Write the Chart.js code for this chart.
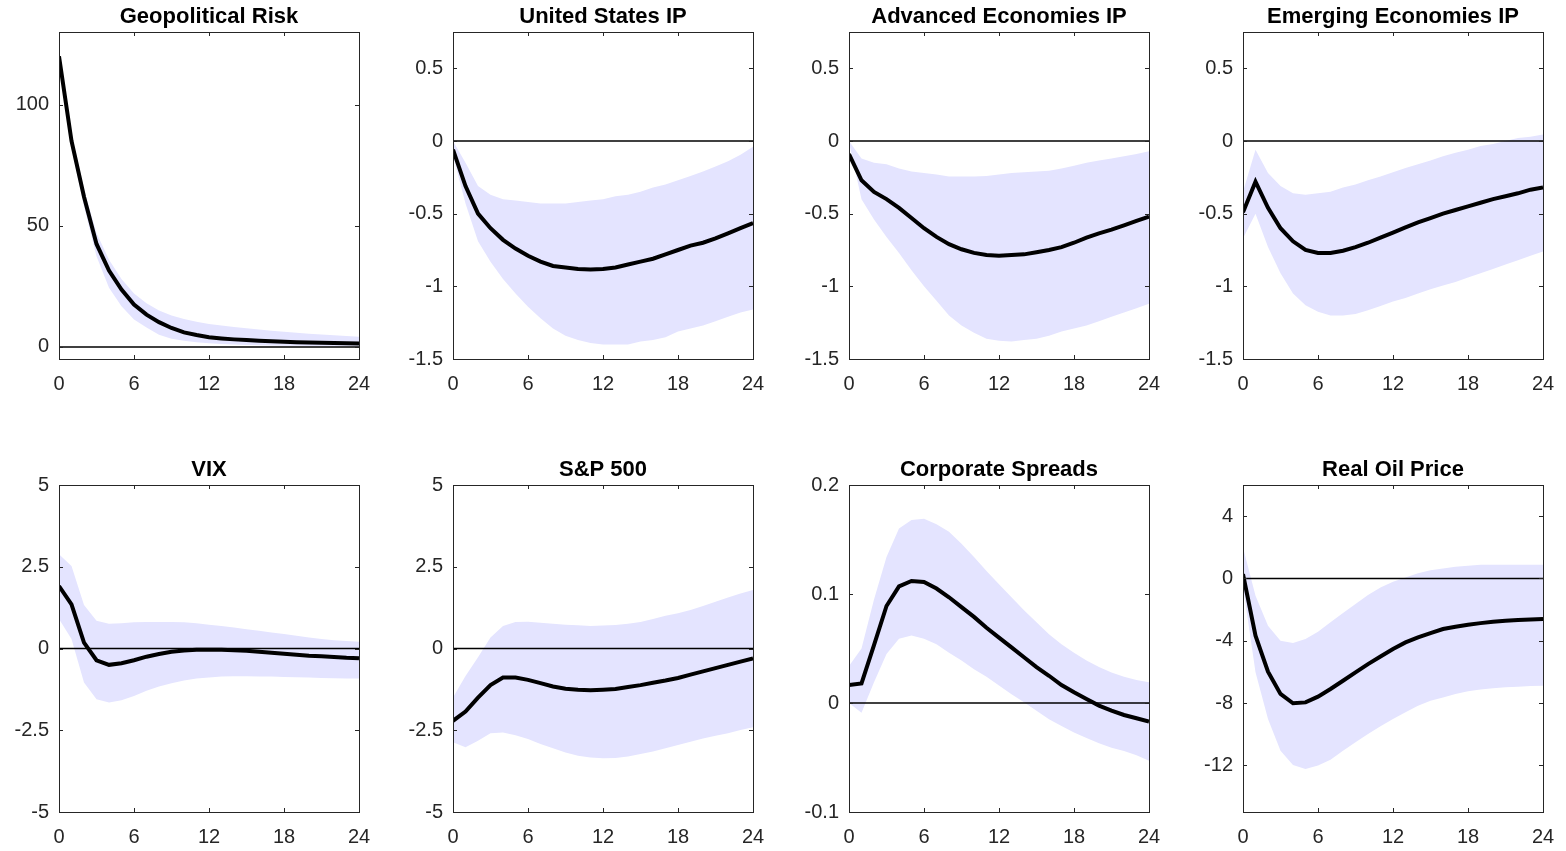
<!DOCTYPE html>
<html>
<head>
<meta charset="utf-8">
<title>Impulse responses</title>
<script src="https://cdn.jsdelivr.net/npm/chart.js@4.4.1/dist/chart.umd.min.js"></script>
<style>
  html, body { margin: 0; padding: 0; background: #fff; }
  body { width: 1566px; height: 851px; position: relative; overflow: hidden; }
  canvas { position: absolute; }
</style>
</head>
<body>
<script>
// Horizons (months) and x ticks
const horizons = [0, 1, 2, 3, 4, 5, 6, 7, 8, 9, 10, 11, 12, 13, 14, 15, 16, 17, 18, 19, 20, 21, 22, 23, 24];
const xTicks = [0, 6, 12, 18, 24];

const titles = ['Geopolitical Risk', 'United States IP', 'Advanced Economies IP', 'Emerging Economies IP',
                'VIX', 'S&P 500', 'Corporate Spreads', 'Real Oil Price'];

// Geopolitical Risk
const geoIrf   = [120, 85, 62, 42.5, 31.5, 23.7, 17.5, 13.3, 10.2, 7.8, 6.0, 4.9, 4.0, 3.5, 3.1, 2.8, 2.5, 2.3, 2.1, 1.9, 1.8, 1.7, 1.6, 1.5, 1.4];
const geoUpper = [120, 88, 65, 47, 36, 28, 22, 18, 15, 13, 11.5, 10.4, 9.5, 8.8, 8.2, 7.7, 7.2, 6.7, 6.2, 5.8, 5.4, 5.1, 4.8, 4.5, 4.2];
const geoLower = [120, 82, 58, 37.4, 24.4, 16.8, 11.3, 8, 5, 3.4, 2.5, 1.9, 1.5, 1.2, 1.0, 0.8, 0.7, 0.6, 0.5, 0.45, 0.4, 0.35, 0.3, 0.25, 0.2];

// United States IP
const usIrf   = [-0.06, -0.31, -0.50, -0.60, -0.68, -0.74, -0.79, -0.83, -0.86, -0.87, -0.88, -0.885, -0.88, -0.87, -0.85, -0.83, -0.81, -0.78, -0.75, -0.72, -0.70, -0.67, -0.635, -0.60, -0.565];
const usUpper = [0.0, -0.15, -0.31, -0.37, -0.40, -0.41, -0.42, -0.43, -0.43, -0.43, -0.42, -0.41, -0.40, -0.38, -0.37, -0.35, -0.32, -0.30, -0.27, -0.24, -0.21, -0.175, -0.14, -0.095, -0.04];
const usLower = [-0.10, -0.43, -0.69, -0.83, -0.95, -1.05, -1.14, -1.22, -1.29, -1.34, -1.37, -1.39, -1.40, -1.40, -1.40, -1.38, -1.37, -1.35, -1.31, -1.29, -1.27, -1.24, -1.21, -1.18, -1.16];

// Advanced Economies IP
const aeIrf   = [-0.09, -0.27, -0.35, -0.40, -0.46, -0.53, -0.60, -0.66, -0.71, -0.745, -0.77, -0.785, -0.79, -0.785, -0.78, -0.765, -0.75, -0.73, -0.70, -0.665, -0.635, -0.61, -0.58, -0.55, -0.52];
const aeUpper = [0.0, -0.12, -0.15, -0.16, -0.19, -0.21, -0.22, -0.23, -0.245, -0.245, -0.245, -0.24, -0.23, -0.22, -0.215, -0.21, -0.205, -0.19, -0.17, -0.15, -0.135, -0.12, -0.105, -0.09, -0.07];
const aeLower = [-0.01, -0.40, -0.54, -0.66, -0.77, -0.89, -1.00, -1.10, -1.20, -1.27, -1.32, -1.36, -1.375, -1.38, -1.37, -1.36, -1.34, -1.31, -1.29, -1.27, -1.24, -1.21, -1.18, -1.15, -1.12];

// Emerging Economies IP
const emIrf   = [-0.49, -0.28, -0.46, -0.60, -0.69, -0.75, -0.77, -0.77, -0.755, -0.73, -0.70, -0.665, -0.63, -0.595, -0.56, -0.53, -0.50, -0.475, -0.45, -0.425, -0.40, -0.38, -0.36, -0.335, -0.32];
const emUpper = [-0.35, -0.06, -0.22, -0.31, -0.36, -0.37, -0.36, -0.35, -0.32, -0.30, -0.27, -0.245, -0.215, -0.185, -0.16, -0.135, -0.105, -0.08, -0.06, -0.035, -0.02, 0.0, 0.02, 0.03, 0.045];
const emLower = [-0.67, -0.50, -0.73, -0.91, -1.05, -1.13, -1.175, -1.20, -1.20, -1.19, -1.165, -1.135, -1.105, -1.08, -1.05, -1.02, -0.995, -0.97, -0.94, -0.91, -0.88, -0.85, -0.82, -0.79, -0.76];

// VIX
const vixIrf   = [1.91, 1.35, 0.18, -0.36, -0.50, -0.45, -0.36, -0.25, -0.17, -0.10, -0.06, -0.04, -0.04, -0.04, -0.05, -0.07, -0.10, -0.13, -0.16, -0.19, -0.22, -0.24, -0.26, -0.285, -0.30];
const vixUpper = [2.88, 2.52, 1.33, 0.85, 0.76, 0.77, 0.80, 0.81, 0.81, 0.81, 0.80, 0.77, 0.73, 0.69, 0.64, 0.59, 0.54, 0.49, 0.44, 0.39, 0.34, 0.29, 0.25, 0.23, 0.21];
const vixLower = [0.90, 0.29, -1.04, -1.55, -1.65, -1.58, -1.45, -1.29, -1.16, -1.06, -0.98, -0.92, -0.89, -0.86, -0.85, -0.85, -0.86, -0.86, -0.87, -0.88, -0.89, -0.90, -0.91, -0.92, -0.92];

// S&P 500
const spIrf   = [-2.21, -1.93, -1.50, -1.12, -0.89, -0.89, -0.96, -1.06, -1.16, -1.23, -1.26, -1.28, -1.26, -1.24, -1.18, -1.12, -1.05, -0.98, -0.90, -0.80, -0.70, -0.60, -0.50, -0.40, -0.30];
const spUpper = [-1.50, -0.84, -0.27, 0.34, 0.69, 0.81, 0.82, 0.79, 0.76, 0.73, 0.71, 0.69, 0.70, 0.72, 0.76, 0.81, 0.90, 1.00, 1.08, 1.18, 1.30, 1.43, 1.56, 1.68, 1.79];
const spLower = [-2.87, -3.02, -2.82, -2.59, -2.57, -2.65, -2.77, -2.92, -3.05, -3.18, -3.28, -3.33, -3.36, -3.35, -3.30, -3.23, -3.15, -3.05, -2.95, -2.85, -2.75, -2.67, -2.59, -2.49, -2.41];

// Corporate Spreads
const csIrf   = [0.0165, 0.018, 0.053, 0.089, 0.107, 0.112, 0.111, 0.105, 0.097, 0.088, 0.079, 0.069, 0.060, 0.051, 0.042, 0.033, 0.025, 0.0165, 0.0098, 0.0037, -0.0024, -0.007, -0.011, -0.014, -0.017];
const csUpper = [0.034, 0.050, 0.095, 0.134, 0.160, 0.168, 0.169, 0.164, 0.157, 0.146, 0.134, 0.121, 0.109, 0.097, 0.085, 0.074, 0.063, 0.054, 0.046, 0.039, 0.033, 0.028, 0.024, 0.021, 0.019];
const csLower = [0.0, -0.009, 0.019, 0.045, 0.059, 0.062, 0.059, 0.054, 0.046, 0.039, 0.031, 0.024, 0.016, 0.008, 0.0006, -0.007, -0.015, -0.021, -0.027, -0.032, -0.037, -0.041, -0.044, -0.048, -0.053];

// Real Oil Price
const oilIrf   = [0.28, -3.68, -5.99, -7.42, -8.02, -7.96, -7.59, -7.10, -6.57, -6.03, -5.50, -5.01, -4.53, -4.11, -3.79, -3.51, -3.25, -3.10, -2.97, -2.87, -2.78, -2.72, -2.67, -2.63, -2.61];
const oilUpper = [1.99, -1.11, -3.04, -4.00, -4.15, -3.89, -3.42, -2.82, -2.22, -1.65, -1.07, -0.58, -0.21, 0.06, 0.34, 0.53, 0.64, 0.75, 0.81, 0.88, 0.88, 0.88, 0.88, 0.88, 0.88];
const oilLower = [-0.5, -6.03, -9.03, -11.06, -11.98, -12.24, -12.02, -11.64, -11.06, -10.52, -9.99, -9.50, -9.03, -8.60, -8.17, -7.85, -7.64, -7.42, -7.25, -7.14, -7.06, -6.99, -6.95, -6.91, -6.89];

const irfSeries   = [geoIrf, usIrf, aeIrf, emIrf, vixIrf, spIrf, csIrf, oilIrf];
const upperSeries = [geoUpper, usUpper, aeUpper, emUpper, vixUpper, spUpper, csUpper, oilUpper];
const lowerSeries = [geoLower, usLower, aeLower, emLower, vixLower, spLower, csLower, oilLower];

// Y limits and tick labels per panel
const yMins = [-5, -1.5, -1.5, -1.5, -5, -5, -0.1, -15];
const yMaxs = [130, 0.75, 0.75, 0.75, 5, 5, 0.2, 6];
const yTicks = [
  [0, 50, 100],
  [-1.5, -1, -0.5, 0, 0.5],
  [-1.5, -1, -0.5, 0, 0.5],
  [-1.5, -1, -0.5, 0, 0.5],
  [-5, -2.5, 0, 2.5, 5],
  [-5, -2.5, 0, 2.5, 5],
  [-0.1, 0, 0.1, 0.2],
  [-12, -8, -4, 0, 4]
];

// Layout (page pixels)
const PLOT_LEFTS = [59, 453, 849, 1243];
const PLOT_TOPS = [32, 485];
const PLOT_W = 300;
const PLOT_H = 327;
const Y_AXIS_W = 59;
const X_AXIS_H = 40;
const TITLE_H = 32;
const PAD_RIGHT = 16;

const BAND_COLOR = 'rgb(228, 228, 255)';
const AXIS_COLOR = '#262626';
const TICK_LEN = 4;

Chart.defaults.font.family = '"Liberation Sans", Arial, Helvetica, sans-serif';
Chart.defaults.color = AXIS_COLOR;

/**
 * Draws the MATLAB-style box around the plot area with inward ticks on all sides
 */
const matlabBox = {
  id: 'matlabBox',
  afterDatasetsDraw(chart) {
    const { ctx, chartArea: a, scales: { x, y } } = chart;
    ctx.save();
    ctx.strokeStyle = AXIS_COLOR;
    ctx.lineWidth = 1;
    ctx.strokeRect(a.left + 0.5, a.top + 0.5, a.right - a.left, a.bottom - a.top);
    ctx.beginPath();
    x.ticks.forEach(t => {
      const px = Math.round(x.getPixelForValue(t.value)) + 0.5;
      ctx.moveTo(px, a.bottom); ctx.lineTo(px, a.bottom - TICK_LEN);
      ctx.moveTo(px, a.top); ctx.lineTo(px, a.top + TICK_LEN);
    });
    y.ticks.forEach(t => {
      const py = Math.round(y.getPixelForValue(t.value)) + 0.5;
      ctx.moveTo(a.left, py); ctx.lineTo(a.left + TICK_LEN, py);
      ctx.moveTo(a.right, py); ctx.lineTo(a.right - TICK_LEN, py);
    });
    ctx.stroke();
    ctx.restore();
  }
};

/**
 * Pairs each horizon with a value from a series
 */
function toPoints(values) {
  return horizons.map((h, i) => ({ x: h, y: values[i] }));
}

/**
 * Creates one panel (canvas + chart)
 */
function createPanel(i) {
  const col = i % 4;
  const row = Math.floor(i / 4);
  const canvas = document.createElement('canvas');
  const w = Y_AXIS_W + PLOT_W + PAD_RIGHT;
  const h = TITLE_H + PLOT_H + X_AXIS_H;
  canvas.width = w;
  canvas.height = h;
  canvas.style.left = (PLOT_LEFTS[col] - Y_AXIS_W) + 'px';
  canvas.style.top = (PLOT_TOPS[row] - TITLE_H) + 'px';
  canvas.style.width = w + 'px';
  canvas.style.height = h + 'px';
  document.body.appendChild(canvas);

  new Chart(canvas, {
    type: 'line',
    data: {
      datasets: [
        { data: toPoints(irfSeries[i]), borderColor: '#000', borderWidth: 4, fill: false },
        { data: [{ x: 0, y: 0 }, { x: 24, y: 0 }], borderColor: '#000', borderWidth: 1.5, fill: false },
        { data: toPoints(upperSeries[i]), borderWidth: 0, borderColor: 'rgba(0,0,0,0)', backgroundColor: BAND_COLOR, fill: '+1' },
        { data: toPoints(lowerSeries[i]), borderWidth: 0, borderColor: 'rgba(0,0,0,0)', fill: false }
      ]
    },
    options: {
      responsive: false,
      animation: false,
      devicePixelRatio: 1,
      layout: { padding: { left: 0, right: PAD_RIGHT, top: 0, bottom: 0 } },
      elements: { point: { radius: 0 }, line: { tension: 0 } },
      plugins: {
        legend: { display: false },
        tooltip: { enabled: false },
        title: {
          display: true,
          fullSize: false,   // centre the title over the plot area
          text: titles[i],
          color: '#000',
          font: { size: 22, weight: 'bold', lineHeight: 1.2 },
          padding: { top: 3.8, bottom: 1.8 }
        }
      },
      scales: {
        x: {
          type: 'linear',
          min: 0,
          max: 24,
          grid: { display: false, drawTicks: false },
          border: { display: false },
          afterBuildTicks: scale => { scale.ticks = xTicks.map(v => ({ value: v })); },
          afterFit: scale => {
            scale.height = X_AXIS_H;
            scale.paddingLeft = 0;
            scale.paddingRight = 0;
          },
          ticks: { font: { size: 20 }, color: AXIS_COLOR, padding: 13, maxRotation: 0, callback: v => String(v) }
        },
        y: {
          min: yMins[i],
          max: yMaxs[i],
          grid: { display: false, drawTicks: false },
          border: { display: false },
          afterBuildTicks: scale => { scale.ticks = yTicks[i].map(v => ({ value: v })); },
          afterFit: scale => {
            scale.width = Y_AXIS_W;
            scale.paddingTop = 0;
            scale.paddingBottom = 0;
          },
          ticks: { font: { size: 20 }, color: AXIS_COLOR, padding: 10, callback: v => String(v) }
        }
      }
    },
    plugins: [matlabBox]
  });
}

document.addEventListener('DOMContentLoaded', () => {
  titles.forEach((_, i) => createPanel(i));
});
</script>
</body>
</html>
